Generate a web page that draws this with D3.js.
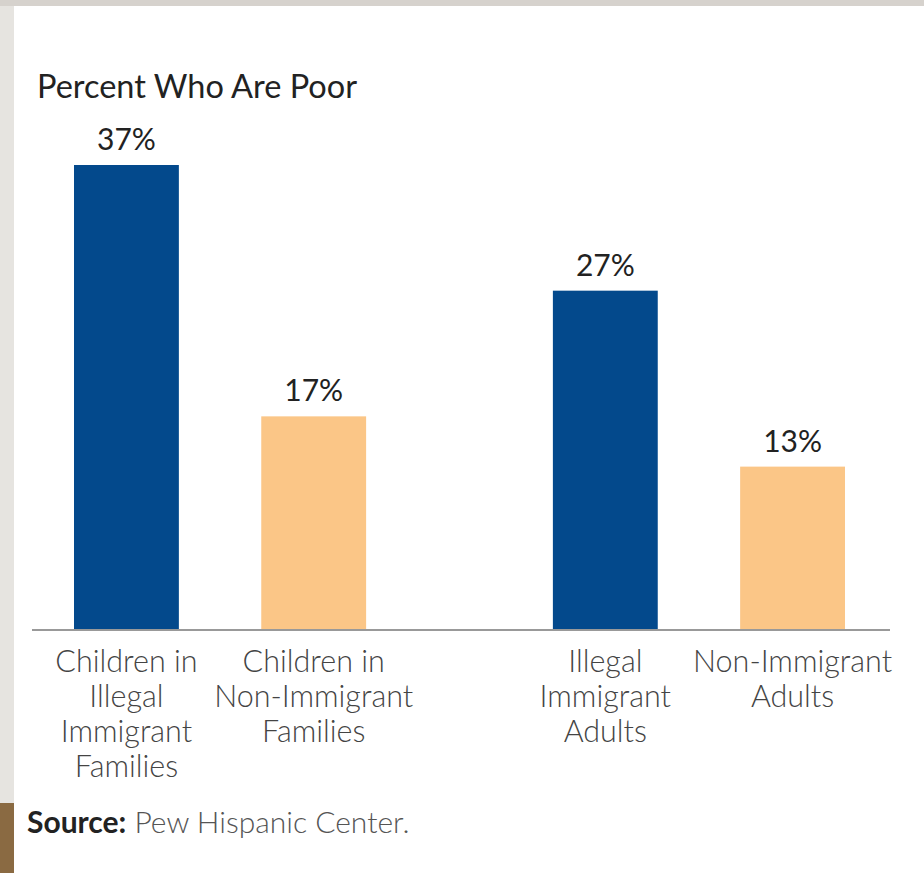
<!DOCTYPE html>
<html>
<head>
<meta charset="utf-8">
<script src="https://cdn.jsdelivr.net/npm/d3@7"></script>
<style>
  body { margin: 0; background: #e6e4e0; }
  svg { display: block; }
</style>
</head>
<body>
<div class="canvas"></div>
<script>
// data
const groups = ['children', 'adults'];
const categories = [
  ['Children in', 'Illegal', 'Immigrant', 'Families'],
  ['Children in', 'Non-Immigrant', 'Families'],
  ['Illegal', 'Immigrant', 'Adults'],
  ['Non-Immigrant', 'Adults']
];
const values = [37, 17, 27, 13];
const kinds = ['illegal', 'native', 'illegal', 'native'];

const dims = { width: 924, height: 873 };
const baseY = 630;

const svg = d3.select('.canvas').append('svg')
  .attr('width', dims.width)
  .attr('height', dims.height);

// backdrop: slide edge + white panel
svg.append('rect').attr('x', 0).attr('y', 0).attr('width', dims.width).attr('height', dims.height).attr('fill', '#e6e4e0');
svg.append('rect').attr('x', 0).attr('y', 0).attr('width', dims.width).attr('height', 6).attr('fill', '#d6d2cd');
svg.append('rect').attr('x', 0).attr('y', 803).attr('width', 14).attr('height', 70).attr('fill', '#8a6a42');
svg.append('rect').attr('x', 14).attr('y', 6).attr('width', dims.width - 14).attr('height', dims.height - 6).attr('fill', '#fff');

const y = d3.scaleLinear()
  .domain([0, 37])
  .range([baseY, 165]);

const xGroup = d3.scaleBand()
  .domain(groups)
  .range([74, 845])
  .paddingInner(0.39)
  .paddingOuter(0);

const xInner = d3.scaleBand()
  .domain([0, 1])
  .range([0, xGroup.bandwidth()])
  .paddingInner(0.44)
  .paddingOuter(0);

const colour = d3.scaleOrdinal()
  .domain(['illegal', 'native'])
  .range(['#03498c', '#fbc687']);

const barX = i => xGroup(groups[Math.floor(i / 2)]) + xInner(i % 2);
const barMid = i => barX(i) + xInner.bandwidth() / 2;

const font = "'Lato', 'Open Sans', sans-serif";

// title
svg.append('text')
  .attr('x', 37).attr('y', 98)
  .attr('font-family', font)
  .attr('font-size', 32.5)
  .attr('fill', '#222')
  .text('Percent Who Are Poor');

// bars
svg.selectAll('rect.bar')
  .data(values)
  .enter().append('rect')
  .attr('class', 'bar')
  .attr('x', (d, i) => barX(i))
  .attr('y', d => y(d))
  .attr('width', xInner.bandwidth())
  .attr('height', d => baseY - y(d))
  .attr('fill', (d, i) => colour(kinds[i]));

// value labels
svg.selectAll('text.val')
  .data(values)
  .enter().append('text')
  .attr('class', 'val')
  .attr('x', (d, i) => barMid(i))
  .attr('y', d => y(d) - 15)
  .attr('text-anchor', 'middle')
  .attr('font-family', font)
  .attr('font-size', 30)
  .attr('fill', '#222')
  .text(d => d + '%');

// baseline
svg.append('line')
  .attr('x1', 32).attr('x2', 890)
  .attr('y1', baseY).attr('y2', baseY)
  .attr('stroke', '#999')
  .attr('stroke-width', 2);

// category labels
const cat = svg.selectAll('text.cat')
  .data(categories)
  .enter().append('text')
  .attr('class', 'cat')
  .attr('text-anchor', 'middle')
  .attr('font-family', font)
  .attr('font-size', 30.5)
  .attr('font-weight', 300)
  .attr('fill', '#444');

cat.each(function(lines, i) {
  d3.select(this).selectAll('tspan')
    .data(lines)
    .enter().append('tspan')
    .attr('x', barMid(i))
    .attr('y', (l, j) => 672 + j * 35)
    .text(l => l);
});

// source
const src = svg.append('text')
  .attr('x', 27).attr('y', 833)
  .attr('font-family', font)
  .attr('font-size', 30);
src.append('tspan').attr('font-weight', 'bold').attr('fill', '#222').text('Source:');
src.append('tspan').attr('fill', '#555').attr('font-weight', 300).text(' Pew Hispanic Center.');
</script>
</body>
</html>
